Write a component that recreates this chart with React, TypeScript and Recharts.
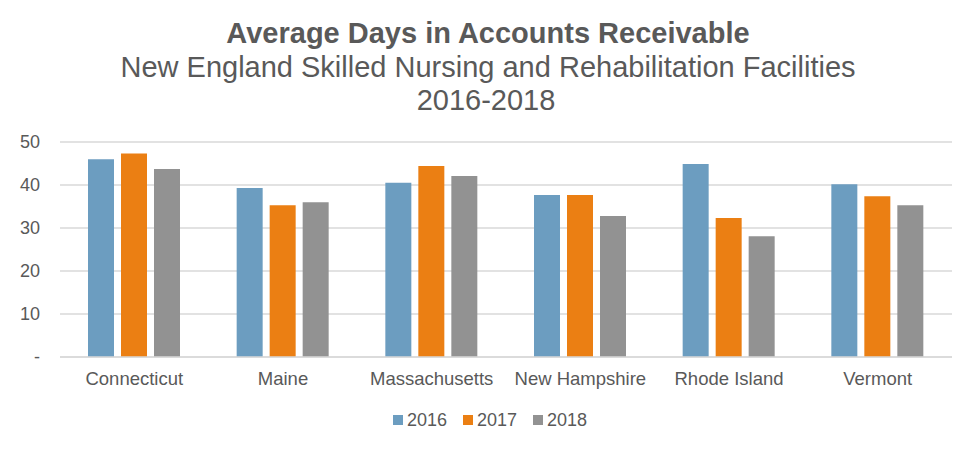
import React from 'react';
import { BarChart, Bar, XAxis, YAxis, CartesianGrid, Legend } from 'recharts';

const states = ['Connecticut', 'Maine', 'Massachusetts', 'New Hampshire', 'Rhode Island', 'Vermont'];
const y2016 = [46.0, 39.3, 40.5, 37.7, 44.9, 40.2];
const y2017 = [47.3, 35.3, 44.4, 37.7, 32.3, 37.4];
const y2018 = [43.7, 36.0, 42.1, 32.8, 28.1, 35.3];
const yTicks = [0, 10, 20, 30, 40, 50];

const series = [
  { key: 'y2016', name: '2016', color: '#6C9DC0' },
  { key: 'y2017', name: '2017', color: '#EB7F13' },
  { key: 'y2018', name: '2018', color: '#929292' },
];

const data = states.map((state, i) => ({
  state,
  y2016: y2016[i],
  y2017: y2017[i],
  y2018: y2018[i],
}));

const font = '"Liberation Sans", Arial, sans-serif';
const textColor = '#595959';

function LegendContent() {
  return (
    <div style={{ display: 'flex', justifyContent: 'center', alignItems: 'center', height: 40, paddingTop: 6, paddingLeft: 6, boxSizing: 'border-box' }}>
      {series.map((s, i) => (
        <div key={s.key} style={{ display: 'flex', alignItems: 'center', marginRight: i < series.length - 1 ? 16 : 0 }}>
          <span style={{ width: 10, height: 10, background: s.color, display: 'inline-block', marginRight: 4 }} />
          <span style={{ fontFamily: font, fontSize: 18, color: textColor }}>{s.name}</span>
        </div>
      ))}
    </div>
  );
}

export default function App() {
  return (
    <div style={{ position: 'absolute', left: 0, top: 0, width: 974, height: 449, background: '#fff' }}>
      <svg width={974} height={130} style={{ position: 'absolute', left: 0, top: 0 }}>
        <text x={488} y={43} textAnchor="middle" fontFamily={font} fontSize={29} fontWeight="bold" fill={textColor}>
          Average Days in Accounts Receivable
        </text>
        <text x={488} y={77} textAnchor="middle" fontFamily={font} fontSize={29} fill={textColor}>
          New England Skilled Nursing and Rehabilitation Facilities
        </text>
        <text x={486} y={110} textAnchor="middle" fontFamily={font} fontSize={29} fill={textColor}>
          2016-2018
        </text>
      </svg>
      <BarChart
        width={974}
        height={449}
        data={data}
        margin={{ top: 142, right: 22, left: 0, bottom: 12 }}
        barSize={26}
        barGap={7}
      >
        <CartesianGrid vertical={false} stroke="#D9D9D9" strokeWidth={1.5} />
        <XAxis
          dataKey="state"
          height={40}
          tickLine={false}
          tickSize={0}
          tickMargin={15}
          axisLine={{ stroke: '#D9D9D9', strokeWidth: 1.5 }}
          tick={{ fill: textColor, fontSize: 18.5, fontFamily: font }}
          interval={0}
        />
        <YAxis
          width={60}
          domain={[0, 50]}
          ticks={yTicks}
          tickFormatter={(v: number) => (v === 0 ? '-' : String(v))}
          axisLine={false}
          tickLine={false}
          tickSize={0}
          tickMargin={20}
          tick={{ fill: textColor, fontSize: 18, fontFamily: font }}
        />
        <Legend
          verticalAlign="bottom"
          height={40}
          wrapperStyle={{ left: 0, width: 974 }}
          content={<LegendContent />}
        />
        {series.map((s) => (
          <Bar key={s.key} dataKey={s.key} name={s.name} fill={s.color} isAnimationActive={false} />
        ))}
      </BarChart>
    </div>
  );
}
